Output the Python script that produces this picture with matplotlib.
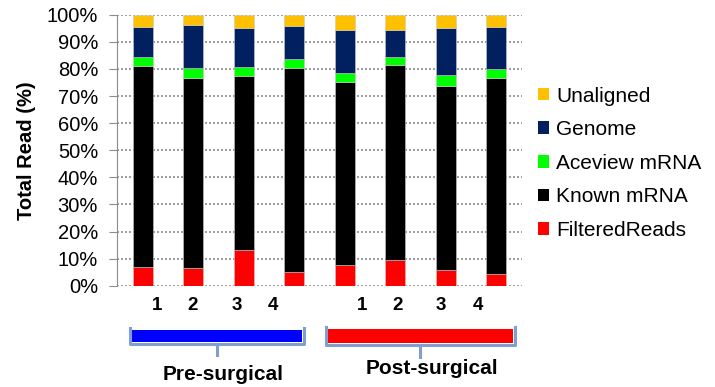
import numpy as np
import matplotlib.pyplot as plt
from matplotlib.patches import Patch, Rectangle
from matplotlib.lines import Line2D

plt.rcParams['font.family'] = ['Liberation Sans', 'DejaVu Sans']

# data (% of total reads)
samples = ['1', '2', '3', '4', '1', '2', '3', '4']
filtered = [6.9, 6.5, 13.2, 5.2, 7.5, 9.6, 5.9, 4.2]
known = [74.3, 70.3, 64.0, 75.0, 67.5, 71.9, 67.9, 72.4]
aceview = [3.1, 3.4, 3.6, 3.3, 3.4, 2.8, 3.8, 3.4]
genome = [11.3, 16.1, 14.2, 12.4, 15.9, 10.0, 17.4, 15.3]
unaligned = [4.4, 3.7, 5.0, 4.1, 5.7, 5.7, 5.0, 4.7]
series = ['FilteredReads', 'Known mRNA', 'Aceview mRNA', 'Genome', 'Unaligned']
colors = ['#FF0000', '#000000', '#00FF00', '#002060', '#FFC000']
label_pos = [0.28, 0.99, 1.86, 2.58, 4.34, 5.05, 5.90, 6.64]
groups = ['Pre-surgical', 'Post-surgical']

W, H = 715, 387
fig = plt.figure(figsize=(W / 100, H / 100), dpi=100)
ax = fig.add_axes([117.5 / W, 1 - 285.7 / H, 404 / W, 271 / H])

def fx(px):
    return px / W

def fy(py):
    return 1 - py / H

x = np.arange(len(samples))
bottom = np.zeros(len(samples))
for vals, name, c in zip([filtered, known, aceview, genome, unaligned], series, colors):
    vals = np.array(vals)
    ax.bar(x, vals, 0.4, bottom=bottom, color=c, label=name, zorder=3,
           edgecolor='#c8c8c8', linewidth=0.4)
    bottom += vals

ax.set_xlim(-0.5, 7.5)
ax.set_ylim(0, 100)
ax.set_yticks(np.arange(0, 101, 10))
ax.set_yticklabels([f'{v}%' for v in range(0, 101, 10)], fontsize=14.5)
ax.yaxis.grid(True, linestyle=(0, (1.2, 1.2)), color='#8c8c8c', linewidth=1.2, zorder=0)
ax.set_xticks(label_pos)
ax.set_xticklabels(samples, fontsize=13.5, fontweight='bold')
ax.tick_params(axis='x', length=0, pad=8)
ax.tick_params(axis='y', length=6, color='#8c8c8c', pad=8)
for s in ['top', 'right', 'bottom']:
    ax.spines[s].set_visible(False)
ax.spines['left'].set_color('#8c8c8c')
ax.set_ylabel('Total Read (%)', fontsize=14.5, fontweight='bold', labelpad=8)

# legend
handles = [Patch(facecolor=c, edgecolor='none') for c in colors][::-1]
fig.legend(handles, series[::-1], loc='upper left',
           bbox_to_anchor=(fx(537.5), fy(86.5)), frameon=False, fontsize=15,
           handlelength=0.55, handleheight=0.55, handletextpad=0.35,
           labelspacing=0.7, borderpad=0, borderaxespad=0)

# group brackets
brackets = [(132, 302, 330, 342, 217, 355, '#0000FF', 223, 375),
            (328, 513, 329, 343, 420, 357, '#FF0000', 432, 368)]
for (x0, x1, y0, y1, xs, ys, fc, tx, ty), name in zip(brackets, groups):
    fig.patches.append(Rectangle((fx(x0), fy(y1)), fx(x1 - x0), (y1 - y0) / H,
                                 transform=fig.transFigure, facecolor=fc,
                                 edgecolor='none'))
    ec = '#7f9fd0'
    fig.lines.append(Line2D([fx(x0 - 2), fx(x0 - 2), fx(x1 + 2), fx(x1 + 2)],
                            [fy(y0 - 2), fy(y1 + 2), fy(y1 + 2), fy(y0 - 2)],
                            transform=fig.transFigure, color=ec, lw=2.2,
                            solid_joinstyle='round'))
    fig.lines.append(Line2D([fx(xs), fx(xs)], [fy(y1 + 2), fy(ys)],
                            transform=fig.transFigure, color=ec, lw=2.2))
    fig.text(fx(tx), fy(ty), name, ha='center', va='center',
             fontsize=15, fontweight='bold')

fig.savefig('out.png', dpi=100)
